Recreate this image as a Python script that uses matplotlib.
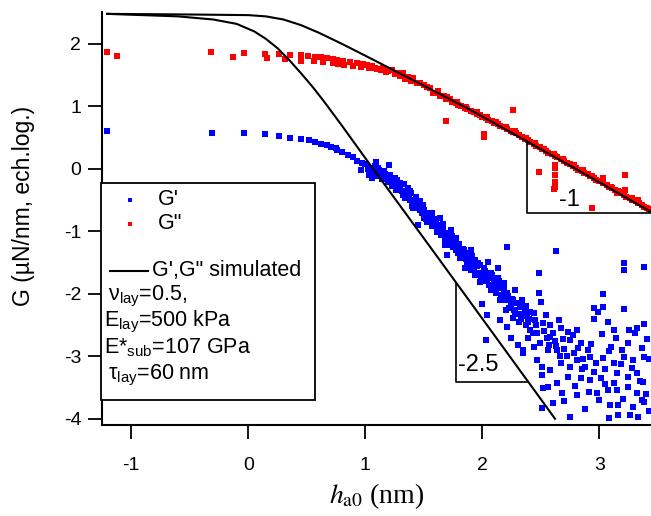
import matplotlib
matplotlib.use("Agg")
import matplotlib.pyplot as plt
from matplotlib.patches import Rectangle

plt.rcParams['font.family'] = ['Liberation Sans', 'DejaVu Sans']
plt.rcParams['axes.unicode_minus'] = False
plt.rcParams['mathtext.fontset'] = 'custom'
plt.rcParams['mathtext.rm'] = 'Liberation Sans'
plt.rcParams['mathtext.it'] = 'Liberation Sans:italic'

# G' measured (blue)
gp_x = [-1.21, -0.31, -0.04, 0.14, 0.26, 0.36, 0.45, 0.52, 0.57, 0.62, 0.67, 0.71, 0.75,
        0.76, 0.80, 0.85, 0.89, 0.93, 0.97, 1.02, 1.03, 1.09, 1.13, 1.20, 1.19, 1.27, 1.30,
        1.34, 1.38, 1.44, 1.47, 1.51, 1.56, 1.58, 1.64, 1.67, 1.70, 1.45, 1.75, 1.79, 1.84,
        1.87, 1.92, 1.70, 1.53, 1.62, 1.73, 1.90, 1.96, 2.01, 2.07, 2.13, 2.18, 2.21, 2.26,
        2.32, 2.38,
        2.21, 2.63, 2.48, 3.21, 3.21, 3.38, 3.03, 2.95, 3.21, 3.03, 2.00, 2.04,
        2.48, 2.50, 2.99, 2.95, 2.65, 3.07, 3.38, 3.32, 3.25, 3.12, 2.81, 2.73, 2.67, 2.58,
        2.75, 2.84, 2.90, 2.64, 2.56, 2.44, 2.35, 2.51, 2.58, 2.67, 2.75, 2.81, 2.88, 2.92,
        3.03, 3.12, 3.21, 3.29, 3.38, 3.15, 3.24, 3.32, 3.37, 3.01, 2.92, 2.84, 2.73, 2.64,
        2.68, 2.81, 2.91, 2.98, 3.07, 3.15, 3.24, 3.32, 3.38, 3.29, 3.16, 3.09, 2.75, 3.08,
        3.16, 3.26, 3.33, 2.60, 2.51, 2.52, 2.56, 2.03, 2.21, 2.24, 2.35, 2.47, 2.51,
        2.11, 2.15, 2.20, 2.26, 2.31, 2.37, 2.41, 2.09, 2.28, 2.34, 2.41, 2.45, 2.54, 2.58,
        2.39, 2.30, 2.15, 1.94, 1.98, 1.90, 1.85,
        0.96, 1.04, 1.06, 1.11, 1.15, 1.21, 1.23, 1.26, 1.32, 1.36, 1.40, 1.43, 1.49, 1.53,
        1.57, 1.61, 1.64, 1.68, 1.73, 1.77, 1.81, 1.85, 1.90, 1.94, 1.98, 2.03, 2.05, 2.09,
        2.13, 2.15,
        1.00, 1.05, 1.08, 1.12, 1.14, 1.17, 1.22, 1.25, 1.28, 1.31, 1.33, 1.37, 1.39, 1.42,
        1.46, 1.48, 1.50, 1.52, 1.55, 1.59, 1.60, 1.62, 1.65, 1.66, 1.69, 1.71, 1.72, 1.74,
        1.76, 1.78, 1.80, 1.82, 1.83, 1.86, 1.88, 1.89, 1.91, 1.93, 1.95, 1.97, 1.99, 2.02,
        2.04, 2.06, 2.08, 2.10, 2.12, 2.14, 2.16, 2.18, 2.20, 2.22, 2.24, 2.27, 2.29, 2.31,
        2.33, 2.36, 2.39, 2.43, 2.46, 2.49, 2.53, 2.57, 2.62, 2.66, 2.70, 2.78, 2.86, 2.95,
        3.05, 3.10, 3.18, 3.28, 3.35, 3.42, 3.40, 3.00, 2.88, 3.20,
        1.02, 1.07, 1.10, 1.16, 1.19, 1.24, 1.27, 1.30, 1.34, 1.35, 1.38, 1.41, 1.44, 1.47,
        1.50, 1.54, 1.57, 1.60, 1.63, 1.66, 1.68, 1.70, 1.75, 1.77, 1.79, 1.81, 1.84, 1.87,
        1.88, 1.91, 1.94, 1.96, 2.00, 2.01, 2.05, 2.07, 2.10, 2.14, 2.17, 2.19, 2.23, 2.25,
        2.28, 2.32, 2.35, 2.37, 2.40, 2.44, 2.47, 2.52, 2.55, 2.60, 2.63, 2.69, 2.72, 2.77,
        2.82, 2.85, 2.93, 2.97, 3.02, 3.08, 3.14, 3.19, 3.24, 3.30, 3.36, 3.41, 3.12, 3.05,
        2.79, 2.70, 3.42, 3.36]
gp_y = [0.60, 0.58, 0.58, 0.56, 0.53, 0.50, 0.48, 0.46, 0.43, 0.40, 0.38, 0.35, 0.34,
        0.30, 0.27, 0.22, 0.19, 0.13, 0.10, 0.03, -0.10, 0.11, -0.06, 0.06, -0.21, -0.18, -0.29,
        -0.37, -0.50, -0.54, -0.66, -0.74, -0.82, -0.90, -0.93, -1.02, -1.14, -0.90, -1.25, -1.34, -1.41,
        -1.49, -1.57, -1.38, -0.77, -0.90, -1.14, -1.42, -1.50, -1.58, -1.66, -1.74, -1.82, -1.98, -2.10,
        -2.21, -2.30,
        -1.25, -1.31, -1.66, -1.50, -1.62, -1.57, -2.00, -2.22, -2.24, -2.21, -2.16, -2.34,
        -1.98, -2.13, -2.29, -2.40, -2.42, -2.45, -2.48, -2.54, -2.58, -2.58, -2.58, -2.61, -2.54, -2.69,
        -2.74, -2.78, -2.90, -2.90, -2.90, -2.85, -2.90, -3.17, -3.22, -3.10, -3.17, -3.06, -3.17, -3.01,
        -3.02, -3.10, -3.01, -3.06, -3.01, -3.26, -3.33, -3.26, -3.41, -3.34, -3.38, -3.34, -3.33, -3.42,
        -3.58, -3.62, -3.57, -3.58, -3.54, -3.54, -3.49, -3.58, -3.73, -3.81, -3.78, -3.78, -3.97, -3.98,
        -3.94, -3.94, -3.97, -3.74, -3.82, -3.50, -3.49, -2.74, -2.53, -2.70, -2.94, -3.06, -3.30,
        -1.94, -2.10, -2.26, -2.38, -2.45, -2.50, -2.58, -1.86, -1.94, -2.10, -2.29, -2.42, -2.34, -2.50,
        -2.70, -2.82, -2.42, -1.70, -1.81, -1.62, -1.58,
        -0.02, -0.02, -0.14, 0.02, -0.11, -0.10, -0.27, -0.34, -0.42, -0.30, -0.59, -0.45, -0.58, -0.85,
        -0.70, -1.01, -0.78, -1.22, -0.98, -1.10, -1.30, -1.38, -1.30, -1.46, -1.54, -1.70, -1.49, -1.74,
        -1.58, -1.90,
        0.07, -0.04, 0.04, -0.02, -0.16, -0.08, -0.20, -0.15, -0.28, -0.35, -0.24, -0.44, -0.38, -0.52,
        -0.62, -0.70, -0.66, -0.80, -0.76, -0.86, -0.80, -0.95, -1.06, -0.88, -1.10, -1.02, -1.20, -1.08,
        -1.18, -1.26, -1.20, -1.36, -1.28, -1.45, -1.34, -1.52, -1.48, -1.62, -1.55, -1.66, -1.72, -1.64,
        -1.78, -1.86, -1.70, -1.80, -1.98, -1.88, -2.02, -1.92, -2.10, -2.04, -2.18, -2.26, -2.15, -2.32,
        -2.40, -2.28, -2.45, -2.62, -2.50, -2.78, -2.60, -2.82, -2.75, -3.00, -2.88, -2.95, -3.05, -3.25,
        -3.20, -2.85, -3.12, -3.18, -3.40, -3.05, -3.60, -3.70, -3.85, -3.68,
        0.00, -0.07, -0.12, -0.03, -0.13, -0.22, -0.32, -0.22, -0.46, -0.40, -0.36, -0.62, -0.58, -0.52,
        -0.78, -0.70, -0.92, -0.88, -1.00, -0.96, -1.16, -1.22, -1.16, -1.30, -1.22, -1.42, -1.30, -1.40,
        -1.58, -1.40, -1.52, -1.70, -1.66, -1.80, -1.72, -1.94, -1.88, -1.80, -2.08, -2.00, -2.22, -2.08,
        -2.30, -2.14, -2.36, -2.20, -2.40, -2.30, -2.62, -2.46, -2.70, -2.62, -2.84, -2.72, -3.00, -2.66,
        -2.86, -3.20, -2.80, -3.10, -2.64, -2.92, -2.70, -2.90, -2.78, -2.62, -2.86, -2.72, -3.42, -3.45,
        -3.48, -3.72, -3.88, -3.70]

# G'' measured (red)
gpp_x = [-1.21, -1.12, -0.32, -0.13, -0.04, 0.14, 0.16, 0.26, 0.31, 0.36, 0.45, 0.45, 0.51,
         0.56, 0.57, 0.62, 0.64, 0.67, 0.72, 0.72, 0.76, 0.77, 0.81, 0.82, 0.87, 0.89, 0.93,
         0.96, 0.98, 1.03, 1.06, 1.10, 1.15, 1.19, 1.23, 1.27, 1.32, 1.36, 1.41, 1.47, 1.53,
         1.58, 1.64, 1.69, 1.74, 1.79, 1.85, 1.90, 1.95, 2.00, 2.05, 2.10, 2.15, 2.21, 2.26,
         2.31, 2.36, 2.41, 2.46, 2.51, 2.56, 2.62, 2.67, 2.72, 2.77, 2.82, 2.87, 2.92, 2.97,
         3.03, 3.08, 3.13, 3.18, 3.23, 3.28, 3.33, 3.38, 3.44,
         1.61, 1.67, 1.72, 1.77, 1.82, 1.87, 1.93, 1.98, 2.03, 2.08, 2.13, 2.18, 2.24, 2.29,
         2.34, 2.39, 2.44, 2.49, 2.54, 2.59, 2.64, 2.70, 2.75, 2.80, 2.85, 2.90, 2.95, 3.00,
         3.06, 3.11, 3.16, 3.21, 3.26, 3.31, 3.36, 3.41,
         1.55, 1.62, 1.70, 1.78, 1.86, 1.95, 2.04, 2.12, 2.20, 2.28, 2.37, 2.45, 2.53, 2.61,
         2.69, 2.78, 2.86, 2.94, 3.02, 3.10, 3.18, 3.26, 3.34, 3.42,
         1.01, 1.08, 1.13, 1.18, 1.25, 1.30, 1.34, 1.39, 1.44, 1.50,
         1.69, 2.26, 2.01, 2.01, 2.48, 2.62, 2.62, 2.62, 2.62, 2.62, 2.61, 2.86, 3.03, 3.03,
         3.22, 3.22, 3.28, 3.33, 2.94, 3.15]
gpp_y = [1.87, 1.81, 1.87, 1.79, 1.86, 1.84, 1.78, 1.84, 1.76, 1.82, 1.82, 1.73, 1.81,
         1.73, 1.79, 1.79, 1.71, 1.78, 1.70, 1.76, 1.74, 1.68, 1.73, 1.66, 1.71, 1.65, 1.70,
         1.63, 1.68, 1.62, 1.65, 1.60, 1.62, 1.57, 1.58, 1.54, 1.54, 1.47, 1.46, 1.38, 1.31,
         1.22, 1.17, 1.12, 1.07, 1.02, 0.98, 0.93, 0.88, 0.83, 0.78, 0.74, 0.69, 0.64, 0.59,
         0.54, 0.48, 0.43, 0.37, 0.32, 0.26, 0.21, 0.16, 0.10, 0.05, -0.02, -0.06, -0.11, -0.18,
         -0.22, -0.29, -0.34, -0.38, -0.45, -0.50, -0.54, -0.61, -0.66,
         1.22, 1.16, 1.11, 1.05, 1.01, 0.96, 0.91, 0.86, 0.81, 0.76, 0.72, 0.67, 0.61, 0.57,
         0.51, 0.46, 0.40, 0.35, 0.29, 0.24, 0.19, 0.13, 0.07, 0.02, -0.04, -0.08, -0.14, -0.19,
         -0.26, -0.31, -0.36, -0.42, -0.47, -0.52, -0.58, -0.63,
         1.30, 1.24, 1.15, 1.07, 0.99, 0.91, 0.83, 0.75, 0.67, 0.60, 0.50, 0.41, 0.32, 0.24,
         0.15, 0.06, -0.03, -0.12, -0.20, -0.29, -0.37, -0.46, -0.55, -0.64,
         1.66, 1.62, 1.58, 1.55, 1.52, 1.48, 1.44, 1.40, 1.38, 1.34,
         0.77, 0.94, 0.51, 0.56, -0.05, 0.02, 0.06, -0.10, -0.21, -0.29, -0.32, -0.02, -0.14, -0.21,
         -0.10, -0.34, -0.46, -0.50, -0.62, -0.38]

# simulated curves
simp_x = [-1.205, -0.6, -0.3, -0.1, 0.05, 0.15, 0.25, 0.35, 0.45, 0.55, 0.65, 0.80, 1.00, 1.67, 2.38, 2.62]
simp_y = [2.48, 2.44, 2.39, 2.32, 2.20, 2.08, 1.93, 1.74, 1.53, 1.31, 1.07, 0.69, 0.17, -1.55, -3.38, -4.00]
simpp_x = [-1.205, -0.5, 0.0, 0.15, 0.30, 0.45, 0.60, 0.80, 1.00, 1.25, 1.50, 1.90, 2.38, 2.90, 3.44]
simpp_y = [2.48, 2.47, 2.46, 2.44, 2.39, 2.30, 2.18, 2.00, 1.81, 1.57, 1.33, 0.94, 0.44, -0.11, -0.69]

# slope triangles
tri1_x = [2.38, 2.38, 3.44]
tri1_y = [0.44, -0.70, -0.70]
tri2_x = [1.77, 1.77, 2.38]
tri2_y = [-1.84, -3.41, -3.41]

fig = plt.figure(figsize=(6.51, 5.16), dpi=100)
ax = fig.add_axes([102/651, 91/516, 549/651, 413/516])

ax.scatter(gp_x, gp_y, marker='s', s=13, color='#0000ff', linewidths=0, zorder=2)
ax.scatter(gpp_x, gpp_y, marker='s', s=13, color='#ff0000', linewidths=0, zorder=2)
ax.plot(simp_x, simp_y, color='black', lw=1.5, zorder=3)
ax.plot(simpp_x, simpp_y, color='black', lw=1.5, zorder=3)
ax.plot(tri1_x, tri1_y, color='black', lw=1.2, zorder=3)
ax.plot(tri2_x, tri2_y, color='black', lw=1.2, zorder=3)
ax.text(2.74, -0.50, '-1', fontsize=17, ha='center', va='center')
ax.text(1.79, -3.14, '-2.5', fontsize=17, ha='left', va='center')

ax.set_xlim(-1.25, 3.44)
ax.set_ylim(-4.1, 2.51)
ax.set_xticks([-1, 0, 1, 2, 3])
ax.set_yticks([-4, -3, -2, -1, 0, 1, 2])
for s in ['top', 'right']:
    ax.spines[s].set_visible(False)
for s in ['left', 'bottom']:
    ax.spines[s].set_linewidth(1.5)
ax.tick_params(direction='out', length=10, width=1.3, labelsize=14)
ax.tick_params(axis='x', pad=13)
ax.tick_params(axis='y', pad=5)

ax.set_ylabel('G (µN/nm, ech.log.)', fontsize=16.5)
ax.yaxis.set_label_coords(-0.122, 0.53)
ax.set_xlabel(r'$h_{\mathrm{a0}}$ (nm)', fontsize=20, fontfamily='Liberation Serif',
              math_fontfamily='stix', labelpad=5)

# legend box
ax.add_patch(Rectangle((-0.002, 0.061), 0.39, 0.525, transform=ax.transAxes,
                       facecolor='white', edgecolor='black', lw=1.3, zorder=5, clip_on=False))
ax.plot([0.051], [0.545], marker='s', ms=3.5, color='#0000ff', mew=0, transform=ax.transAxes, zorder=6)
ax.plot([0.051], [0.487], marker='s', ms=3.5, color='#ff0000', mew=0, transform=ax.transAxes, zorder=6)
ax.plot([0.015, 0.084], [0.373, 0.373], color='black', lw=1.5, transform=ax.transAxes, zorder=6)
leg_fs = 15.5
ax.text(0.102, 0.545, "G'", fontsize=leg_fs, va='center', transform=ax.transAxes, zorder=6)
ax.text(0.102, 0.487, 'G"', fontsize=leg_fs, va='center', transform=ax.transAxes, zorder=6)
ax.text(0.091, 0.373, 'G\',G" simulated', fontsize=leg_fs, va='center', transform=ax.transAxes, zorder=6)
ax.text(0.011, 0.312, r'ν$_{\mathrm{lay}}$=0.5,', fontsize=leg_fs, va='center', transform=ax.transAxes, zorder=6)
ax.text(0.004, 0.249, r'E$_{\mathrm{lay}}$=500 kPa', fontsize=leg_fs, va='center', transform=ax.transAxes, zorder=6)
ax.text(0.004, 0.186, r'E*$_{\mathrm{sub}}$=107 GPa', fontsize=leg_fs, va='center', transform=ax.transAxes, zorder=6)
ax.text(0.011, 0.119, r'τ$_{\mathrm{lay}}$=60 nm', fontsize=leg_fs, va='center', transform=ax.transAxes, zorder=6)

fig.savefig('out.png', dpi=100)
